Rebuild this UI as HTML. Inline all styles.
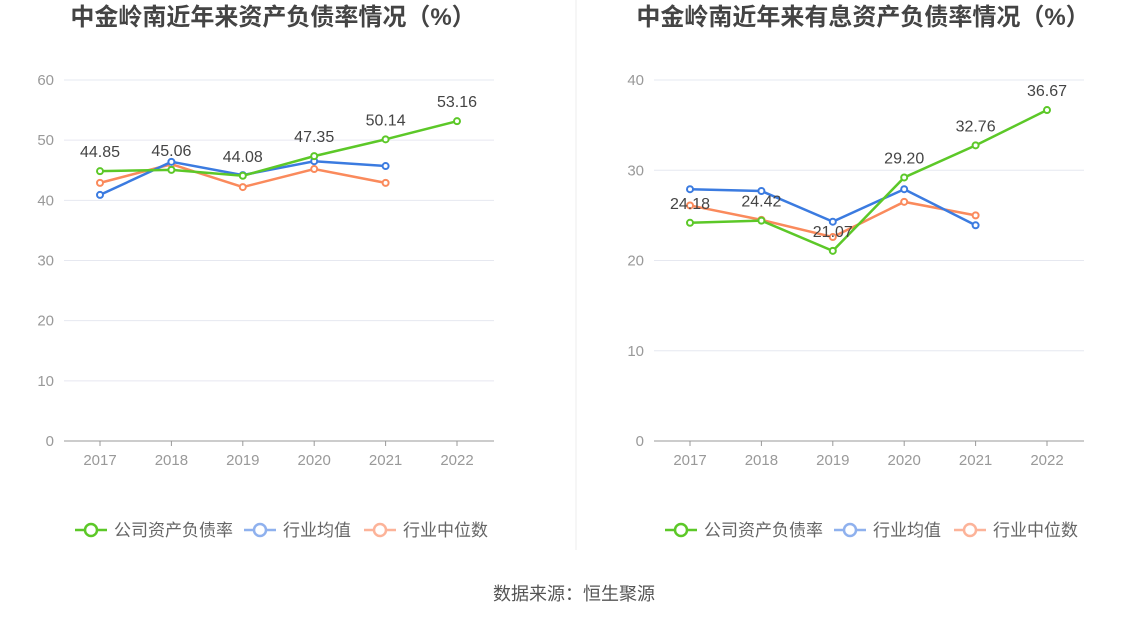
<!DOCTYPE html>
<html><head><meta charset="utf-8"><style>
body{margin:0;background:#fff;width:1148px;height:619px;overflow:hidden;font-family:"Liberation Sans","Noto Sans CJK SC",sans-serif;}
svg text{font-family:"Liberation Sans","Noto Sans CJK SC",sans-serif;}
</style></head><body>
<svg id="root" width="1148" height="619">
<line x1="576" y1="0" x2="576" y2="550" stroke="#eee"/>
<text x="574" y="600" text-anchor="middle" font-size="18" fill="#555">数据来源：恒生聚源</text>
</svg>
<script>
const years=["2017","2018","2019","2020","2021","2022"];
const leftCompany=[44.85,45.06,44.08,47.35,50.14,53.16];
const leftAvg=[40.9,46.4,44.2,46.5,45.7,null];
const leftMed=[42.9,46.0,42.2,45.2,42.9,null];
const leftTicks=[0,10,20,30,40,50,60];
const rightCompany=[24.18,24.42,21.07,29.20,32.76,36.67];
const rightAvg=[27.9,27.7,24.3,27.9,23.9,null];
const rightMed=[26.1,24.5,22.6,26.5,25.0,null];
const rightTicks=[0,10,20,30,40];
const NS="http://www.w3.org/2000/svg";
const root=document.getElementById('root');
function mk(tag,attrs,parent){const e=document.createElementNS(NS,tag);for(const k in attrs)e.setAttribute(k,attrs[k]);(parent||root).appendChild(e);return e;}
function chart(ox,title,ticks,company,avg,med,prefix){
  const g=mk('g',{});
  
  
  const x0=ox+100,dx=71.4,yTop=80,yBot=441,max=ticks[ticks.length-1];
  const X=i=>x0+i*dx, Y=v=>yBot-(v/max)*(yBot-yTop);
  const t=mk('text',{x:ox+273,y:25,'text-anchor':'middle','font-size':24,'font-weight':'bold',fill:'#444'},g);
  t.textContent=title;
  
  
  ticks.forEach(v=>{
    if(v>0){const l=mk('line',{x1:ox+64,x2:ox+494,y1:Y(v),y2:Y(v),stroke:'#e6e8f0'},g);
    
    }
    const tx=mk('text',{x:ox+54,y:Y(v)+5,'text-anchor':'end','font-size':15,fill:'#999'},g);
    tx.textContent=v;
    
    
  });
  const ax=mk('line',{x1:ox+64,x2:ox+494,y1:yBot,y2:yBot,stroke:'#999'},g);
  
  
  years.forEach((y,i)=>{
    mk('line',{x1:X(i),x2:X(i),y1:yBot,y2:yBot+5,stroke:'#999'},g);
    const tx=mk('text',{x:X(i),y:465,'text-anchor':'middle','font-size':15,fill:'#999'},g);
    tx.textContent=y;
    
    
  });
  const series=[[med,'#fa8a5c','median'],[avg,'#3b7be0','average'],[company,'#5cc828','company']];
  series.forEach(([d,c,n])=>{
    let pts=[];d.forEach((v,i)=>{if(v!=null)pts.push(X(i)+','+Y(v));});
    const pl=mk('polyline',{points:pts.join(' '),fill:'none',stroke:c,'stroke-width':2.5},g);
    
    
    d.forEach((v,i)=>{if(v==null)return;
      const p=mk('circle',{cx:X(i),cy:Y(v),r:3,fill:'#fff',stroke:c,'stroke-width':2},g);
      
      
    });
  });
  company.forEach((v,i)=>{
    const tx=mk('text',{x:X(i),y:Y(v)-14,'text-anchor':'middle','font-size':16,fill:'#444'},g);
    tx.textContent=v.toFixed(2);
    
    
  });
  const leg=[['公司资产负债率','#5cc828',ox+75],['行业均值','#8fb1ee',ox+244],['行业中位数','#fcb399',ox+364]];
  leg.forEach(([n,c,lx])=>{
    const lg=mk('g',{},g);
    
    
    mk('line',{x1:lx,x2:lx+32,y1:530,y2:530,stroke:c,'stroke-width':2.5},lg);
    mk('circle',{cx:lx+16,cy:530,r:6,fill:'#fff',stroke:c,'stroke-width':2.5},lg);
    const tx=mk('text',{x:lx+39,y:536,'font-size':17,fill:'#666'},lg);
    tx.textContent=n;
  });
}
chart(0,'中金岭南近年来资产负债率情况（%）',leftTicks,leftCompany,leftAvg,leftMed,'left');
chart(590,'中金岭南近年来有息资产负债率情况（%）',rightTicks,rightCompany,rightAvg,rightMed,'right');
</script>
</body></html>
